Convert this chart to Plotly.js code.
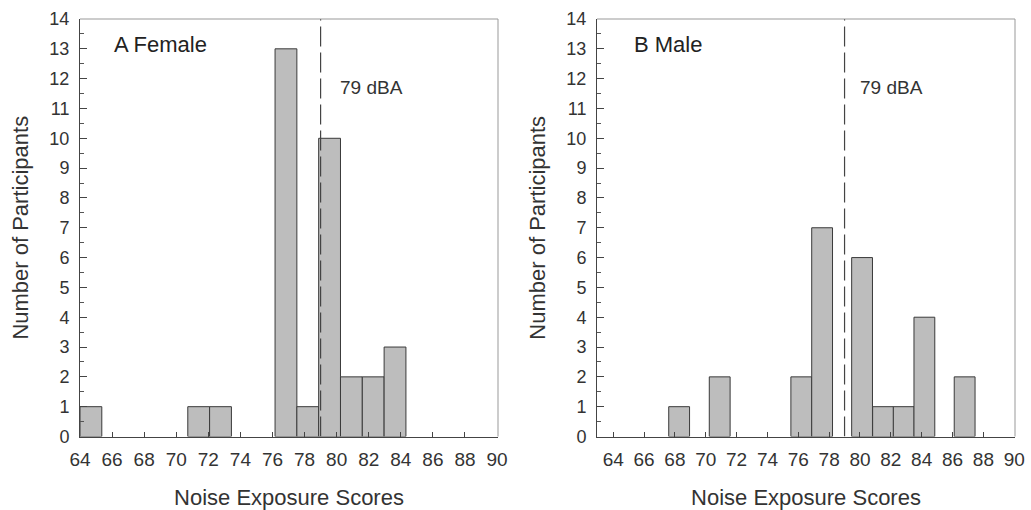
<!DOCTYPE html>
<html>
<head>
<meta charset="utf-8">
<script src="https://cdn.plot.ly/plotly-3.0.1.min.js"></script>
<style>html,body{margin:0;padding:0;background:#fff;}#chart{width:1031px;height:510px;}</style>
</head>
<body>
<div id="chart"></div>
<script>
// ---- data ----
var femaleBinStart = [64, 70.72, 72.08, 76.16, 77.52, 78.88, 80.24, 81.6, 82.96];
var femaleCounts   = [1, 1, 1, 13, 1, 10, 2, 2, 3];
var femaleBinWidth = 1.36;

var maleBinStart = [67.6, 70.23, 75.52, 76.87, 79.46, 80.82, 82.16, 83.5, 86.11];
var maleCounts   = [1, 2, 2, 7, 6, 1, 1, 4, 2];
var maleBinWidth = 1.35;

var thresholdDbA = 79;
var panelLabels = ["A Female", "B Male"];
var thresholdLabel = "79 dBA";
var xTitle = "Noise Exposure Scores";
var yTitle = "Number of Participants";

// ---- styling ----
var FONT = "Liberation Sans, Arial, sans-serif";
var barStyle = {color: "#bdbdbd", line: {color: "#3a3a3a", width: 1}};

var traces = [
  {type: "bar", x: femaleBinStart, y: femaleCounts, width: femaleBinWidth, offset: 0,
   marker: barStyle, xaxis: "x", yaxis: "y", hoverinfo: "x+y"},
  {type: "bar", x: maleBinStart, y: maleCounts, width: maleBinWidth, offset: 0,
   marker: barStyle, xaxis: "x2", yaxis: "y2", hoverinfo: "x+y"}
];

function xAxis(domain, range, anchor) {
  return {
    domain: domain, range: range, anchor: anchor,
    tickmode: "linear", tick0: 64, dtick: 2,
    ticks: "inside", ticklen: 5, tickcolor: "#444", tickwidth: 1,
    showline: true, linecolor: "#444", linewidth: 1,
    showgrid: false, zeroline: false, fixedrange: true,
    ticklabelstandoff: 6,
    tickfont: {family: FONT, size: 19, color: "#333"},
    title: {text: xTitle, font: {family: FONT, size: 22, color: "#333"}, standoff: 20}
  };
}
function yAxis(domain, anchor) {
  return {
    domain: domain, range: [0, 14], anchor: anchor,
    tickmode: "linear", tick0: 0, dtick: 1,
    ticks: "inside", ticklen: 7, tickcolor: "#444", tickwidth: 1,
    minor: {ticks: "inside", ticklen: 4, dtick: 0.5, tickcolor: "#555", showgrid: false},
    showline: true, linecolor: "#444", linewidth: 1,
    showgrid: false, zeroline: false, fixedrange: true,
    ticklabelstandoff: 6,
    tickfont: {family: FONT, size: 18, color: "#333"},
    title: {text: yTitle, font: {family: FONT, size: 22, color: "#333"}, standoff: 14}
  };
}

var W = 1031, H = 510;
var yDom = [(H - 436.5) / H, (H - 19) / H];

var layout = {
  width: W, height: H,
  margin: {l: 0, r: 0, t: 0, b: 0},
  paper_bgcolor: "#fff", plot_bgcolor: "#fff",
  showlegend: false, bargap: 0,
  xaxis: xAxis([80 / W, 498 / W], [64, 90.06], "y"),
  yaxis: yAxis(yDom, "x"),
  xaxis2: xAxis([597 / W, 1015 / W], [62.95, 90.05], "y2"),
  yaxis2: yAxis(yDom, "x2"),
  shapes: [
    {type: "line", xref: "x", yref: "y", x0: thresholdDbA, x1: thresholdDbA, y0: 0, y1: 14,
     line: {color: "#444", width: 1.2, dash: "20px,6px"}, layer: "above"},
    {type: "line", xref: "x2", yref: "y2", x0: thresholdDbA, x1: thresholdDbA, y0: 0, y1: 14,
     line: {color: "#444", width: 1.2, dash: "20px,6px"}, layer: "above"},
    // lighter top / right frame edges
    {type: "line", xref: "x domain", yref: "y domain", x0: 0, x1: 1, y0: 1, y1: 1, line: {color: "#999", width: 1}},
    {type: "line", xref: "x domain", yref: "y domain", x0: 1, x1: 1, y0: 0, y1: 1, line: {color: "#999", width: 1}},
    {type: "line", xref: "x2 domain", yref: "y2 domain", x0: 0, x1: 1, y0: 1, y1: 1, line: {color: "#999", width: 1}},
    {type: "line", xref: "x2 domain", yref: "y2 domain", x0: 1, x1: 1, y0: 0, y1: 1, line: {color: "#999", width: 1}}
  ],
  annotations: [
    {xref: "x", yref: "y", x: 66.0, y: 13.14, text: panelLabels[0], showarrow: false,
     xanchor: "left", yanchor: "middle", font: {family: FONT, size: 22, color: "#222"}},
    {xref: "x", yref: "y", x: 80.06, y: 11.7, text: thresholdLabel, showarrow: false,
     xanchor: "left", yanchor: "middle", font: {family: FONT, size: 19, color: "#333"}},
    {xref: "x2", yref: "y2", x: 65.2, y: 13.14, text: panelLabels[1], showarrow: false,
     xanchor: "left", yanchor: "middle", font: {family: FONT, size: 22, color: "#222"}},
    {xref: "x2", yref: "y2", x: 79.87, y: 11.7, text: thresholdLabel, showarrow: false,
     xanchor: "left", yanchor: "middle", font: {family: FONT, size: 19, color: "#333"}}
  ]
};

Plotly.newPlot("chart", traces, layout, {staticPlot: true, displayModeBar: false});
</script>
</body>
</html>
